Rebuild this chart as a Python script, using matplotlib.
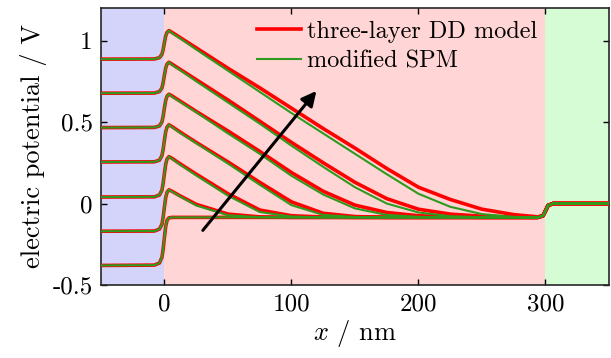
import matplotlib.pyplot as plt
import numpy as np

plt.rcParams['font.family'] = 'cmr10'
plt.rcParams['mathtext.fontset'] = 'cm'
plt.rcParams['axes.unicode_minus'] = False

# positions in nm
x = [-50, -8, -4, -2, -1, 0, 1, 2, 3.5, 6, 12, 25, 50, 75, 100, 125, 150, 175,
     200, 225, 250, 275, 294, 298, 300, 302, 306, 350]

# three-layer DD model (red), lowest curve first
dd0 = [-0.38, -0.378, -0.365, -0.33, -0.277, -0.203, -0.138, -0.103, -0.088, -0.085, -0.085, -0.085, -0.085, -0.085,
       -0.085, -0.085, -0.085, -0.085, -0.085, -0.085, -0.085, -0.085, -0.085, -0.075, -0.045, -0.012, 0.0, 0.0]
dd1 = [-0.17, -0.169, -0.157, -0.127, -0.081, -0.018, 0.038, 0.069, 0.084, 0.075, 0.048, -0.005, -0.065, -0.082,
       -0.085, -0.085, -0.085, -0.085, -0.085, -0.085, -0.085, -0.085, -0.085, -0.075, -0.045, -0.012, 0.0, 0.0]
dd2 = [0.04, 0.041, 0.052, 0.082, 0.127, 0.189, 0.243, 0.273, 0.288, 0.277, 0.245, 0.18, 0.06, -0.04,
       -0.075, -0.083, -0.085, -0.085, -0.085, -0.085, -0.085, -0.085, -0.085, -0.075, -0.045, -0.012, 0.0, 0.0]
dd3 = [0.255, 0.256, 0.266, 0.294, 0.335, 0.392, 0.442, 0.469, 0.483, 0.472, 0.44, 0.375, 0.255, 0.13,
       0.01, -0.06, -0.08, -0.085, -0.085, -0.085, -0.085, -0.085, -0.085, -0.075, -0.045, -0.012, 0.0, 0.0]
dd4 = [0.466, 0.467, 0.476, 0.501, 0.538, 0.589, 0.634, 0.659, 0.671, 0.66, 0.63, 0.565, 0.445, 0.32,
       0.19, 0.075, -0.01, -0.055, -0.075, -0.082, -0.085, -0.085, -0.085, -0.075, -0.045, -0.012, 0.0, 0.0]
dd5 = [0.677, 0.678, 0.687, 0.709, 0.744, 0.791, 0.833, 0.856, 0.867, 0.855, 0.825, 0.76, 0.635, 0.505,
       0.375, 0.25, 0.13, 0.03, -0.035, -0.065, -0.078, -0.083, -0.085, -0.075, -0.045, -0.012, 0.0, 0.0]
dd6 = [0.886, 0.887, 0.895, 0.916, 0.947, 0.991, 1.03, 1.05, 1.061, 1.05, 1.02, 0.955, 0.83, 0.71,
       0.585, 0.46, 0.34, 0.215, 0.10, 0.025, -0.035, -0.068, -0.082, -0.075, -0.045, -0.012, 0.0, 0.0]

# modified SPM (green)
spm0 = dd0
spm1 = [-0.17, -0.169, -0.157, -0.127, -0.081, -0.018, 0.038, 0.069, 0.084, 0.072, 0.045, -0.012, -0.072, -0.084,
        -0.085, -0.085, -0.085, -0.085, -0.085, -0.085, -0.085, -0.085, -0.085, -0.075, -0.045, -0.012, 0.0, 0.0]
spm2 = [0.04, 0.041, 0.052, 0.082, 0.127, 0.189, 0.243, 0.273, 0.288, 0.273, 0.24, 0.172, 0.048, -0.052,
        -0.08, -0.085, -0.085, -0.085, -0.085, -0.085, -0.085, -0.085, -0.085, -0.075, -0.045, -0.012, 0.0, 0.0]
spm3 = [0.255, 0.256, 0.266, 0.294, 0.335, 0.392, 0.442, 0.469, 0.483, 0.468, 0.435, 0.37, 0.245, 0.115,
        -0.01, -0.07, -0.083, -0.085, -0.085, -0.085, -0.085, -0.085, -0.085, -0.075, -0.045, -0.012, 0.0, 0.0]
spm4 = [0.466, 0.467, 0.476, 0.501, 0.538, 0.589, 0.634, 0.659, 0.671, 0.655, 0.625, 0.56, 0.43, 0.305,
        0.17, 0.055, -0.03, -0.07, -0.082, -0.085, -0.085, -0.085, -0.085, -0.075, -0.045, -0.012, 0.0, 0.0]
spm5 = [0.677, 0.678, 0.687, 0.709, 0.744, 0.791, 0.833, 0.856, 0.867, 0.85, 0.82, 0.75, 0.62, 0.49,
        0.355, 0.225, 0.1, 0.0, -0.055, -0.078, -0.084, -0.085, -0.085, -0.075, -0.045, -0.012, 0.0, 0.0]
spm6 = [0.886, 0.887, 0.895, 0.916, 0.947, 0.991, 1.03, 1.05, 1.061, 1.045, 1.015, 0.945, 0.815, 0.685,
        0.555, 0.43, 0.305, 0.18, 0.06, -0.02, -0.065, -0.082, -0.085, -0.075, -0.045, -0.012, 0.0, 0.0]

dd = [dd0, dd1, dd2, dd3, dd4, dd5, dd6]
spm = [spm0, spm1, spm2, spm3, spm4, spm5, spm6]

fig = plt.figure(figsize=(6.11, 3.58), dpi=100)
ax = fig.add_axes([0.1653, 0.2039, 0.8314, 0.7738])

# layers
ax.axvspan(-50, 0, color='#d4d4fa', lw=0)
ax.axvspan(0, 300, color='#ffd5d5', lw=0)
ax.axvspan(300, 350, color='#d5fcd5', lw=0)

for i, v in enumerate(dd):
    ax.plot(x, v, color='red', lw=2.6, label='three-layer DD model' if i == 0 else None, zorder=3)
for i, v in enumerate(spm):
    ax.plot(x, v, color='#2e9a1e', lw=1.5, label='modified SPM' if i == 0 else None, zorder=4)

ax.annotate('', xy=(121, 0.704), xytext=(28.8, -0.178),
            arrowprops=dict(arrowstyle='-|>', color='black', lw=2.2, mutation_scale=22), zorder=5)

ax.set(xlim=[-50, 350], ylim=[-0.5, 1.2])
ax.set_xticks([0, 100, 200, 300])
ax.set_yticks([-0.5, 0, 0.5, 1])
ax.set_yticklabels(['-0.5', '0', '0.5', '1'])
ax.tick_params(direction='in', top=True, right=True, labelsize=18, length=4, width=1, pad=6)
for s in ax.spines.values():
    s.set_linewidth(1.2)
    s.set_color('#262626')

ax.set_xlabel(r'$x$ / nm', fontsize=19, labelpad=2)
ax.set_ylabel('electric potential / V', fontsize=19, labelpad=4)

ax.legend(loc='upper left', bbox_to_anchor=(0.265, 1.033), frameon=False, fontsize=17.5,
          handlelength=1.8, handletextpad=0.25, labelspacing=0.3)

fig.savefig('out.png')
